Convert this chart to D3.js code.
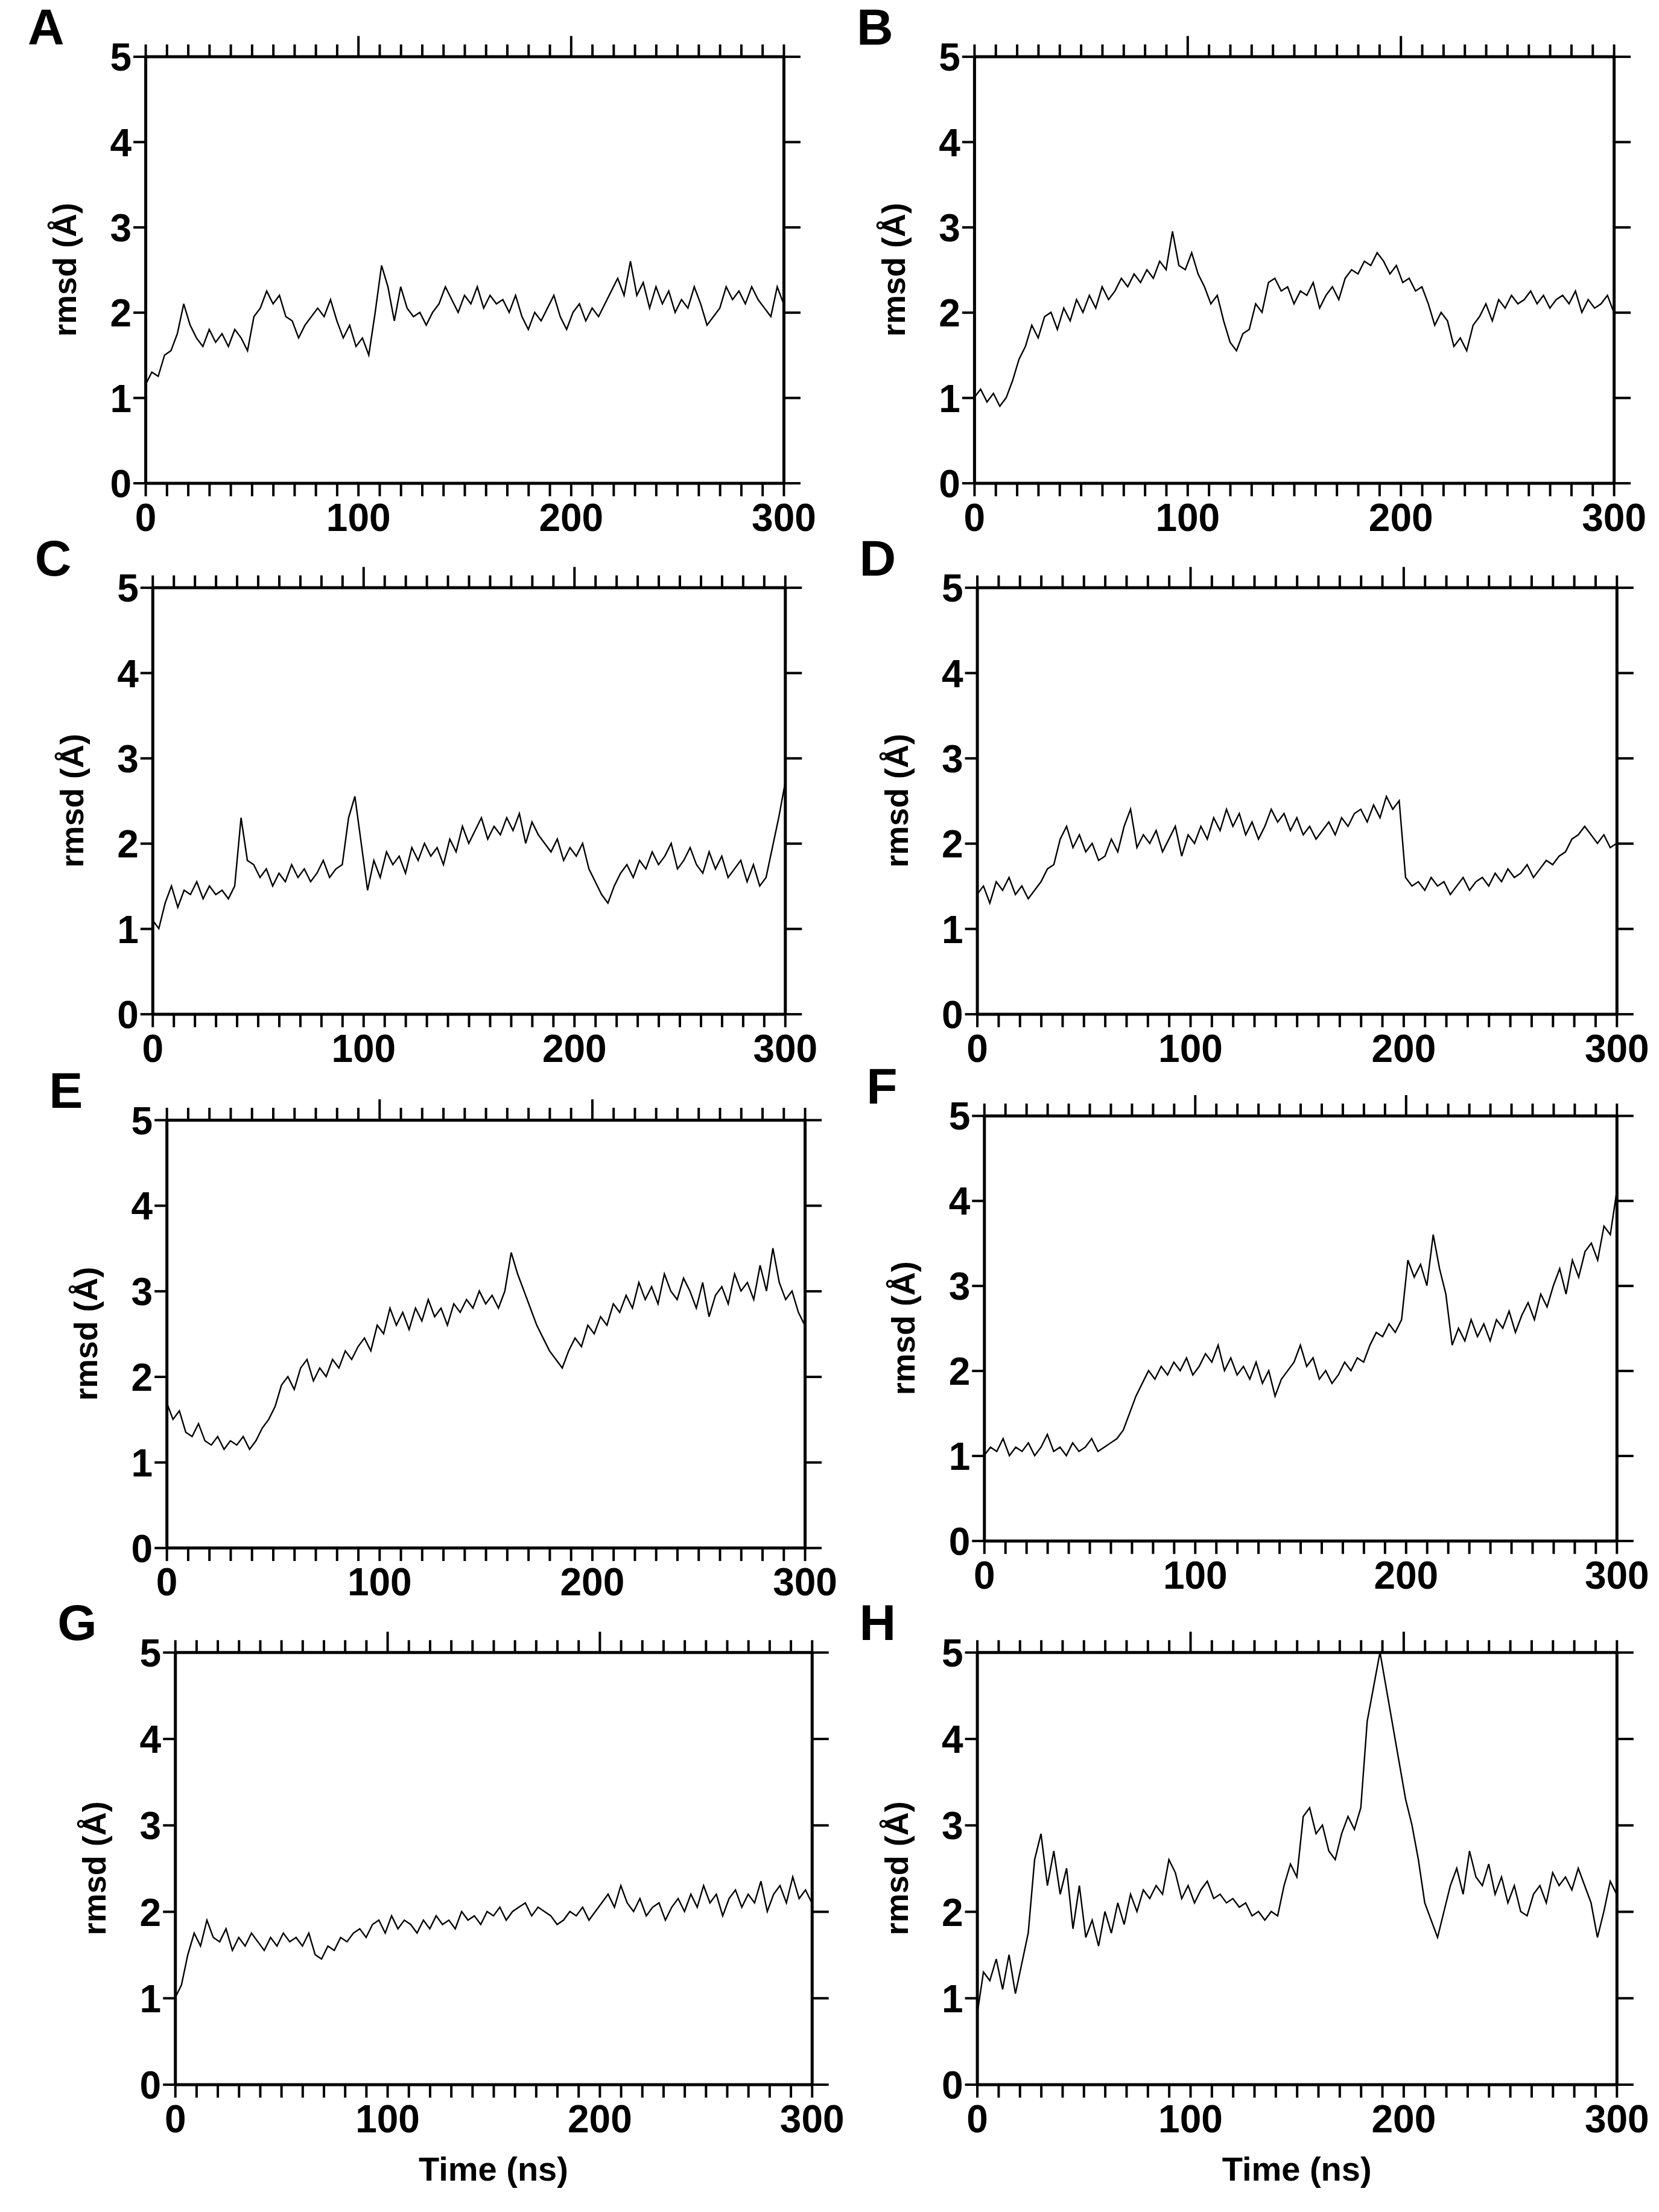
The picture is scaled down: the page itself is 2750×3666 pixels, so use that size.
<!DOCTYPE html>
<html><head><meta charset="utf-8">
<script src="https://cdn.jsdelivr.net/npm/d3@7"></script>
<style>body{margin:0;background:#fff}</style>
</head><body><div id="viz"></div>
<script>
const width = 2750, height = 3666;
const s = width / 1175;

// rmsd (Å) traces, one value every 3 ns
const rmsdA = [1.15,1.3,1.25,1.5,1.55,1.75,2.1,1.85,1.7,1.6,1.8,1.65,1.75,1.6,1.8,1.7,1.55,1.95,2.05,2.25,2.1,2.2,1.95,1.9,1.7,1.85,1.95,2.05,1.95,2.15,1.9,1.7,1.85,1.6,1.7,1.5,2.0,2.55,2.3,1.9,2.3,2.05,1.95,2.0,1.85,2.0,2.1,2.3,2.15,2.0,2.2,2.1,2.3,2.05,2.2,2.1,2.15,2.0,2.2,1.95,1.8,2.0,1.9,2.05,2.2,1.95,1.8,2.0,2.1,1.9,2.05,1.95,2.1,2.25,2.4,2.2,2.6,2.2,2.35,2.05,2.3,2.1,2.25,2.0,2.15,2.05,2.3,2.1,1.85,1.95,2.05,2.3,2.15,2.25,2.1,2.3,2.15,2.05,1.95,2.3,2.1];
const rmsdB = [1.0,1.1,0.95,1.05,0.9,1.0,1.2,1.45,1.6,1.85,1.7,1.95,2.0,1.8,2.05,1.9,2.15,2.0,2.2,2.05,2.3,2.15,2.25,2.4,2.3,2.45,2.35,2.5,2.4,2.6,2.5,2.95,2.55,2.5,2.7,2.45,2.3,2.1,2.2,1.9,1.65,1.55,1.75,1.8,2.1,2.0,2.35,2.4,2.25,2.3,2.1,2.25,2.2,2.35,2.05,2.2,2.3,2.15,2.4,2.5,2.45,2.6,2.55,2.7,2.6,2.45,2.55,2.35,2.4,2.25,2.3,2.1,1.85,2.0,1.9,1.6,1.7,1.55,1.85,1.95,2.1,1.9,2.15,2.05,2.2,2.1,2.15,2.25,2.1,2.2,2.05,2.15,2.2,2.1,2.25,2.0,2.15,2.05,2.1,2.2,2.0];
const rmsdC = [1.1,1.0,1.3,1.5,1.25,1.45,1.4,1.55,1.35,1.5,1.4,1.45,1.35,1.5,2.3,1.8,1.75,1.6,1.7,1.5,1.65,1.55,1.75,1.6,1.7,1.55,1.65,1.8,1.6,1.7,1.75,2.3,2.55,2.0,1.45,1.8,1.6,1.9,1.75,1.85,1.65,1.95,1.8,2.0,1.85,1.95,1.75,2.05,1.9,2.2,2.0,2.15,2.3,2.05,2.2,2.1,2.3,2.15,2.35,2.0,2.25,2.1,2.0,1.9,2.05,1.8,1.95,1.85,2.0,1.7,1.55,1.4,1.3,1.5,1.65,1.75,1.6,1.8,1.7,1.9,1.75,1.85,2.0,1.7,1.8,1.95,1.75,1.65,1.9,1.7,1.85,1.6,1.7,1.8,1.55,1.75,1.5,1.6,1.95,2.3,2.7];
const rmsdD = [1.4,1.5,1.3,1.55,1.45,1.6,1.4,1.5,1.35,1.45,1.55,1.7,1.75,2.05,2.2,1.95,2.1,1.9,2.0,1.8,1.85,2.05,1.9,2.2,2.4,1.95,2.1,2.0,2.15,1.9,2.05,2.2,1.85,2.1,2.0,2.2,2.05,2.3,2.15,2.4,2.2,2.35,2.1,2.25,2.05,2.2,2.4,2.25,2.35,2.15,2.3,2.1,2.2,2.05,2.15,2.25,2.1,2.3,2.2,2.35,2.4,2.25,2.45,2.3,2.55,2.4,2.5,1.6,1.5,1.55,1.45,1.6,1.5,1.55,1.4,1.5,1.6,1.45,1.55,1.6,1.5,1.65,1.55,1.7,1.6,1.65,1.75,1.6,1.7,1.8,1.75,1.85,1.9,2.05,2.1,2.2,2.1,2.0,2.1,1.95,2.0];
const rmsdE = [1.7,1.5,1.6,1.35,1.3,1.45,1.25,1.2,1.3,1.15,1.25,1.2,1.3,1.15,1.25,1.4,1.5,1.65,1.9,2.0,1.85,2.1,2.2,1.95,2.1,2.0,2.2,2.1,2.3,2.2,2.35,2.45,2.3,2.6,2.5,2.8,2.6,2.75,2.55,2.8,2.65,2.9,2.7,2.8,2.6,2.85,2.75,2.9,2.8,3.0,2.85,2.95,2.8,3.0,3.45,3.2,3.0,2.8,2.6,2.45,2.3,2.2,2.1,2.3,2.45,2.35,2.6,2.5,2.7,2.6,2.85,2.75,2.95,2.8,3.1,2.9,3.05,2.85,3.2,3.0,2.9,3.15,3.0,2.8,3.1,2.7,2.95,3.05,2.85,3.2,3.0,3.1,2.9,3.3,3.0,3.5,3.1,2.9,3.0,2.75,2.6];
const rmsdF = [1.0,1.1,1.05,1.2,1.0,1.1,1.05,1.15,1.0,1.1,1.25,1.05,1.1,1.0,1.15,1.05,1.1,1.2,1.05,1.1,1.15,1.2,1.3,1.5,1.7,1.85,2.0,1.9,2.05,1.95,2.1,2.0,2.15,1.95,2.05,2.2,2.1,2.3,2.0,2.15,1.95,2.05,1.9,2.1,1.85,2.0,1.7,1.9,2.0,2.1,2.3,2.05,2.15,1.9,2.0,1.85,1.95,2.1,2.0,2.15,2.1,2.3,2.45,2.4,2.55,2.45,2.6,3.3,3.1,3.25,3.0,3.6,3.2,2.9,2.3,2.5,2.35,2.6,2.4,2.55,2.35,2.6,2.5,2.7,2.45,2.65,2.8,2.6,2.9,2.75,3.0,3.2,2.9,3.3,3.1,3.4,3.5,3.3,3.7,3.6,4.1];
const rmsdG = [1.0,1.15,1.5,1.75,1.6,1.9,1.7,1.65,1.8,1.55,1.7,1.6,1.75,1.65,1.55,1.7,1.6,1.75,1.65,1.7,1.6,1.75,1.5,1.45,1.6,1.55,1.7,1.65,1.75,1.8,1.7,1.85,1.9,1.75,1.95,1.8,1.9,1.85,1.75,1.9,1.8,1.95,1.85,1.9,1.8,2.0,1.9,1.95,1.85,2.0,1.95,2.05,1.9,2.0,2.05,2.1,1.95,2.05,2.0,1.95,1.85,1.9,2.0,1.95,2.05,1.9,2.0,2.1,2.2,2.05,2.3,2.1,2.0,2.15,1.95,2.05,2.1,1.9,2.05,2.15,2.0,2.2,2.05,2.3,2.1,2.2,1.95,2.15,2.25,2.05,2.2,2.1,2.35,2.0,2.2,2.3,2.1,2.4,2.15,2.25,2.1];
// H has a gap in sampling between the peak and 201 ns (drawn as a straight segment)
const rmsdH1 = [0.8,1.3,1.2,1.45,1.1,1.5,1.05,1.4,1.75,2.6,2.9,2.3,2.7,2.2,2.5,1.8,2.3,1.7,1.9,1.6,2.0,1.75,2.1,1.85,2.2,2.0,2.25,2.15,2.3,2.2,2.6,2.45,2.15,2.3,2.1,2.25,2.35,2.15,2.2,2.1,2.15,2.05,2.1,1.95,2.0,1.9,2.0,1.95,2.3,2.55,2.4,3.1,3.2,2.9,3.0,2.7,2.6,2.9,3.1,2.95,3.2,4.2,4.6,5.0];
const rmsdH2 = [3.3,3.0,2.6,2.1,1.9,1.7,2.0,2.3,2.5,2.2,2.7,2.4,2.3,2.55,2.2,2.4,2.1,2.3,2.0,1.95,2.2,2.3,2.1,2.45,2.3,2.4,2.25,2.5,2.3,2.1,1.7,2.0,2.35,2.2];

const xTicks = [0, 100, 200, 300];
const yTicks = [0, 1, 2, 3, 4, 5];

const even = v => v.map((r, i) => [i * 300 / (v.length - 1), r]);
const seriesH = rmsdH1.map((r, i) => [i * 3, r]).concat(rmsdH2.map((r, i) => [201 + i * 3, r]));

const panels = [
  {id: "A", data: even(rmsdA), x0: 103, x1: 555, y5: 40, y0: 342},
  {id: "B", data: even(rmsdB), x0: 690, x1: 1143, y5: 40, y0: 342},
  {id: "C", data: even(rmsdC), x0: 108, x1: 556, y5: 416, y0: 718},
  {id: "D", data: even(rmsdD), x0: 692, x1: 1145, y5: 416, y0: 718},
  {id: "E", data: even(rmsdE), x0: 118, x1: 570, y5: 793, y0: 1096},
  {id: "F", data: even(rmsdF), x0: 697, x1: 1145, y5: 790, y0: 1091},
  {id: "G", data: even(rmsdG), x0: 124, x1: 575, y5: 1170, y0: 1476, xlab: true},
  {id: "H", data: seriesH, x0: 692, x1: 1145, y5: 1170, y0: 1476, xlab: true}
];

const svg = d3.select("#viz").append("svg").attr("width", width).attr("height", height);
const numFont = "'Liberation Sans Narrow', 'Arial Narrow', 'Liberation Sans', sans-serif";
const sansFont = "'Liberation Sans', Arial, sans-serif";

panels.forEach(p => {
  const x = d3.scaleLinear().domain([0, 300]).range([p.x0 * s, p.x1 * s]);
  const y = d3.scaleLinear().domain([0, 5]).range([p.y0 * s, p.y5 * s]);
  const g = svg.append("g");
  const minor = d3.range(0, 301, 10);

  const styleAxis = a => {
    a.selectAll("path").attr("stroke-width", 5);
    a.selectAll("line").attr("stroke-width", 4);
    a.selectAll("text").attr("font-family", numFont).attr("font-weight", "bold")
      .attr("font-size", 64).attr("fill", "#000");
  };

  // bottom
  g.append("g").attr("transform", `translate(0,${y(0)})`)
    .call(d3.axisBottom(x).tickValues(minor).tickSize(22).tickSizeOuter(0)
      .tickFormat(d => xTicks.includes(d) ? d : ""))
    .call(styleAxis).call(a => a.selectAll("text").attr("dy", "0.85em"));
  // top
  g.append("g").attr("transform", `translate(0,${y(5)})`)
    .call(d3.axisTop(x).tickValues(minor).tickSizeOuter(0).tickFormat(""))
    .call(styleAxis)
    .call(a => a.selectAll(".tick line").attr("y2", d => d % 100 === 0 && d > 0 && d < 300 ? -34 : -20));
  // left
  g.append("g").attr("transform", `translate(${x(0)},0)`)
    .call(d3.axisLeft(y).tickValues(yTicks).tickSize(20).tickSizeOuter(0).tickFormat(d3.format("d")))
    .call(styleAxis).call(a => a.selectAll("text").attr("dy", "0.36em"));
  // right
  g.append("g").attr("transform", `translate(${x(300)},0)`)
    .call(d3.axisRight(y).tickValues(yTicks).tickSize(28).tickSizeOuter(0).tickFormat(""))
    .call(styleAxis);

  g.append("path").datum(p.data)
    .attr("fill", "none").attr("stroke", "#000").attr("stroke-width", 2.4)
    .attr("d", d3.line().x(d => x(d[0])).y(d => y(d[1])));

  g.append("text").attr("x", x(0) - 195).attr("y", y(5) - 20)
    .attr("font-family", sansFont).attr("font-weight", "bold").attr("font-size", 84).text(p.id);

  g.append("text")
    .attr("transform", `translate(${x(0) - 115},${(y(0) + y(5)) / 2}) rotate(-90)`)
    .attr("text-anchor", "middle").attr("font-family", sansFont).attr("font-weight", "bold")
    .attr("font-size", 54).text("rmsd (Å)");

  if (p.xlab) {
    g.append("text").attr("x", x(150)).attr("y", y(0) + 160)
      .attr("text-anchor", "middle").attr("font-family", sansFont).attr("font-weight", "bold")
      .attr("font-size", 56).text("Time (ns)");
  }
});
</script></body></html>
